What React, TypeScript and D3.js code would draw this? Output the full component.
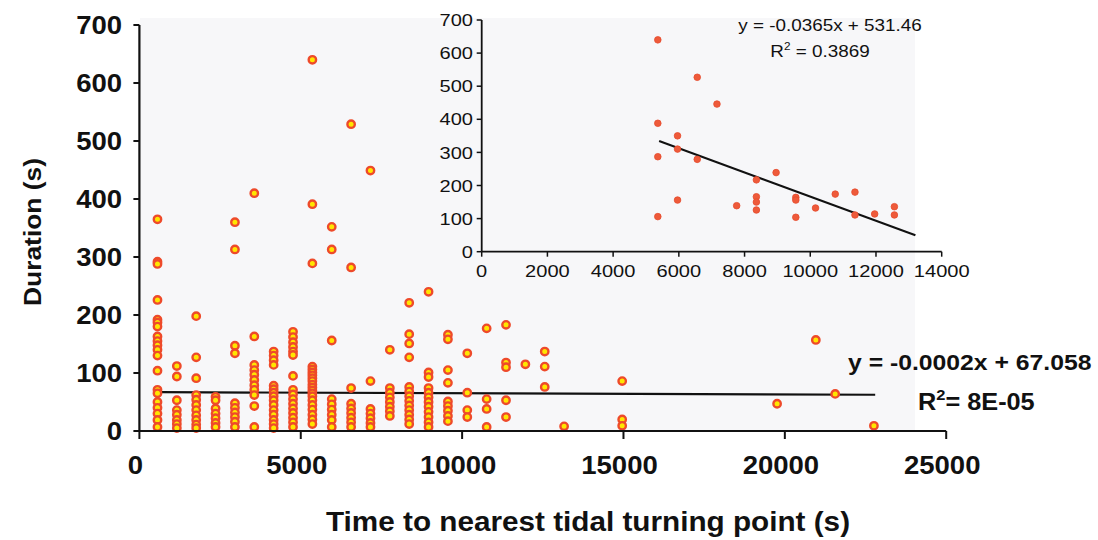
import React from "react";
import * as d3 from "d3";

// ---- Main scatter data: column x positions (s) and durations (s) in each column
const colX = [560, 1160, 1760, 2360, 2960, 3560, 4160, 4760, 5360, 5960, 6560, 7160, 7760, 8360, 8960, 9560, 10160, 10760, 11360, 11960, 12560, 13160, 14960, 19760, 20960, 21560, 22760];
const colY = [
  [365, 292, 288, 226, 192, 187, 180, 163, 155, 148, 140, 130, 104, 71, 65, 50, 40, 30, 19, 7],
  [112, 94, 53, 36, 28, 19, 12, 5],
  [198, 127, 91, 62, 54, 45, 36, 27, 19, 11, 5],
  [59, 53, 39, 30, 22, 14, 7],
  [360, 313, 147, 134, 48, 40, 32, 24, 16, 7],
  [410, 163, 114, 105, 97, 88, 79, 71, 62, 43, 7],
  [137, 130, 122, 114, 78, 72, 66, 60, 53, 45, 36, 28, 19, 12, 5],
  [171, 162, 153, 145, 137, 131, 95, 71, 63, 55, 47, 39, 31, 23, 15, 7],
  [640, 391, 289, 111, 106, 101, 96, 91, 86, 80, 75, 70, 65, 60, 53, 45, 37, 28, 20, 12],
  [352, 313, 156, 55, 46, 37, 28, 19, 7],
  [529, 282, 74, 47, 39, 31, 23, 15, 7],
  [449, 86, 38, 30, 22, 14, 7],
  [140, 74, 66, 58, 50, 42, 34, 26],
  [221, 167, 151, 127, 76, 68, 60, 52, 44, 36, 28, 20, 12],
  [240, 101, 93, 74, 66, 58, 50, 42, 33, 24, 15, 7],
  [166, 158, 105, 83, 51, 43, 35, 26, 17],
  [134, 66, 36, 24],
  [177, 55, 38, 7],
  [183, 118, 110, 53, 24],
  [115],
  [137, 111, 76],
  [8],
  [86, 20, 9],
  [47],
  [157],
  [64],
  [9],
];
const mainXTicks = [0, 5000, 10000, 15000, 20000, 25000];
const mainYTicks = [0, 100, 200, 300, 400, 500, 600, 700];
const mainFit = { slope: -0.0002, intercept: 67.058, x0: 650, x1: 22800 };

// ---- Inset data (events > 100 s)
const insetX = [5360, 5360, 5360, 5360, 5960, 5960, 5960, 6560, 6560, 7160, 7760, 8360, 8360, 8360, 8360, 8960, 9560, 9560, 9560, 10160, 10760, 11360, 11360, 11960, 12560, 12560];
const insetY = [640, 388, 287, 106, 350, 310, 156, 527, 279, 446, 139, 217, 166, 150, 126, 239, 164, 156, 104, 132, 174, 180, 111, 114, 136, 111];
const insetXTicks = [0, 2000, 4000, 6000, 8000, 10000, 12000, 14000];
const insetYTicks = [0, 100, 200, 300, 400, 500, 600, 700];
const insetFit = { slope: -0.0365, intercept: 531.46, x0: 5400, x1: 13200 };

const FONT = "Arial, 'Liberation Sans', Helvetica, sans-serif";

type TProps = {
  x: number; y: number; size: number; sx?: number; bold?: boolean; anchor?: "start" | "middle" | "end";
  rotate?: number; dy?: string; children: React.ReactNode;
};
function T({ x, y, size, sx = 1.1, bold, anchor = "start", rotate = 0, dy, children }: TProps) {
  return (
    <text
      transform={`translate(${x},${y}) rotate(${rotate}) scale(${sx},1)`}
      textAnchor={anchor}
      fontSize={size}
      fontWeight={bold ? "bold" : "normal"}
      dy={dy}
      fill="#111"
    >
      {children}
    </text>
  );
}

export default function App() {
  const W = 1098, H = 540;
  const x = d3.scaleLinear().domain([0, 25000]).range([139.4, 946.2]);
  const y = d3.scaleLinear().domain([0, 700]).range([431, 25]);
  const ix = d3.scaleLinear().domain([0, 14000]).range([481.7, 941.7]);
  const iy = d3.scaleLinear().domain([0, 700]).range([251.7, 20]);

  const pts: { x: number; y: number }[] = [];
  colX.forEach((cx, i) => colY[i].forEach((v) => pts.push({ x: cx, y: v })));

  const line = d3.line<number>().x((d) => x(d)).y((d) => y(mainFit.slope * d + mainFit.intercept));
  const iline = d3.line<number>().x((d) => ix(d)).y((d) => iy(insetFit.slope * d + insetFit.intercept));

  return (
    <svg width={W} height={H} style={{ position: "absolute", left: 0, top: 0, background: "#fff" }} fontFamily={FONT}>
      <rect x={0} y={0} width={W} height={H} fill="#fff" />
      <rect x={140} y={18} width={775} height={413} fill="#f7f7f9" />

      {/* Main regression */}
      <path d={line([mainFit.x0, mainFit.x1]) || ""} stroke="#111" strokeWidth={2.2} fill="none" />

      {/* Main points */}
      {pts.map((p, i) => (
        <circle key={i} cx={x(p.x)} cy={y(p.y)} r={3.7} fill="#ffe600" stroke="#ee4a2a" strokeWidth={2.4} />
      ))}

      {/* Main axes */}
      <line x1={x(0)} x2={x(25000)} y1={y(0)} y2={y(0)} stroke="#111" strokeWidth={2.2} />
      <line x1={x(0)} x2={x(0)} y1={y(0)} y2={y(700)} stroke="#111" strokeWidth={2.2} />
      {mainXTicks.map((t) => (
        <g key={t}>
          <line x1={x(t)} x2={x(t)} y1={y(0)} y2={y(0) + 8} stroke="#111" strokeWidth={2} />
          <T x={x(t) - 4} y={474} size={25} bold anchor="middle">{t}</T>
        </g>
      ))}
      {mainYTicks.map((t) => (
        <g key={t}>
          <line x1={x(0) - 6} x2={x(0)} y1={y(t)} y2={y(t)} stroke="#111" strokeWidth={2} />
          <T x={122} y={y(t)} dy="0.36em" size={25} bold anchor="end">{t}</T>
        </g>
      ))}
      <T x={41} y={232} size={24} bold anchor="middle" rotate={-90}>Duration (s)</T>
      <T x={588} y={531} size={27} bold anchor="middle">Time to nearest tidal turning point (s)</T>

      <T x={848} y={370} size={22.5} bold>y = -0.0002x + 67.058</T>
      <T x={918} y={410} size={23} bold>
        R<tspan dy={-10} fontSize={15}>2</tspan><tspan dy={10}>= 8E-05</tspan>
      </T>

      {/* Inset */}
      <path d={iline([insetFit.x0, insetFit.x1]) || ""} stroke="#111" strokeWidth={2} fill="none" />
      {insetX.map((vx, i) => (
        <circle key={i} cx={ix(vx)} cy={iy(insetY[i])} r={3.3} fill="#ee5a3a" stroke="#e64a2c" strokeWidth={0.8} />
      ))}
      <line x1={ix(0)} x2={ix(14000)} y1={iy(0)} y2={iy(0)} stroke="#111" strokeWidth={1.8} />
      <line x1={ix(0)} x2={ix(0)} y1={iy(0)} y2={iy(700)} stroke="#111" strokeWidth={1.8} />
      {insetXTicks.map((t) => (
        <g key={t}>
          <line x1={ix(t)} x2={ix(t)} y1={iy(0)} y2={iy(0) + 5} stroke="#111" strokeWidth={1.5} />
          <T x={ix(t)} y={277} size={17} sx={1.18} anchor="middle">{t}</T>
        </g>
      ))}
      {insetYTicks.map((t) => (
        <g key={t}>
          <line x1={ix(0) - 5} x2={ix(0)} y1={iy(t)} y2={iy(t)} stroke="#111" strokeWidth={1.5} />
          <T x={473} y={iy(t)} dy="0.36em" size={17} sx={1.18} anchor="end">{t}</T>
        </g>
      ))}
      <T x={830} y={31} size={16} sx={1.18} anchor="middle">y = -0.0365x + 531.46</T>
      <T x={820} y={57} size={16} sx={1.18} anchor="middle">
        R<tspan dy={-7} fontSize={10}>2</tspan><tspan dy={7}> = 0.3869</tspan>
      </T>
    </svg>
  );
}
